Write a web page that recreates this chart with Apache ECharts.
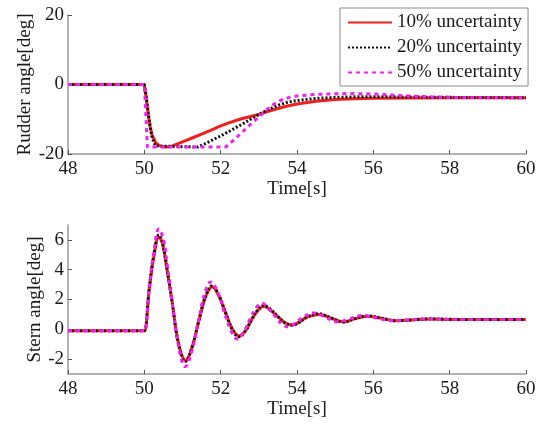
<!DOCTYPE html>
<html>
<head>
<meta charset="utf-8">
<script src="https://cdn.jsdelivr.net/npm/echarts@6/dist/echarts.min.js"></script>
<style>
  html, body { margin: 0; padding: 0; background: #fff; }
  #chart { width: 541px; height: 425px; }
</style>
</head>
<body>
<div id="chart"></div>
<script>
// ---- Rudder angle [deg] vs time [s] ----
const rudderT10 = [48, 50, 50.05, 50.1, 50.15, 50.2, 50.3, 50.4, 50.5, 50.6, 50.7, 50.8, 51.0, 51.25, 51.5, 51.75, 52.0, 52.25, 52.5, 52.75, 53.0, 53.25, 53.5, 53.75, 54.0, 54.5, 55.0, 55.5, 56.0, 57.0, 58.0, 59.0, 60.0];
const rudderV10 = [0, 0, -4, -8.5, -12, -14.5, -16.8, -17.6, -17.9, -18, -17.8, -17.4, -16.5, -15.4, -14.3, -13.1, -11.9, -10.9, -10.0, -9.3, -8.6, -7.7, -6.9, -6.2, -5.6, -4.8, -4.35, -4.1, -3.95, -3.85, -3.8, -3.8, -3.8];

const rudderT20 = [48, 50, 50.05, 50.1, 50.15, 50.2, 50.25, 50.3, 50.35, 51.4, 51.6, 51.8, 52.0, 52.2, 52.4, 52.6, 52.8, 53.0, 53.25, 53.5, 53.75, 54.0, 54.5, 55.0, 55.5, 56.0, 56.5, 57.0, 58.0, 59.0, 60.0];
const rudderV20 = [0, 0, -3.5, -8, -12, -15, -16.8, -17.7, -18, -18, -17.0, -15.9, -14.8, -13.6, -12.4, -11.2, -9.9, -8.6, -7.2, -6.0, -5.1, -4.6, -4.0, -3.7, -3.55, -3.5, -3.55, -3.6, -3.7, -3.75, -3.8];

const rudderT50 = [48, 50, 50.04, 50.08, 52.13, 52.4, 52.7, 53.0, 53.2, 53.4, 53.6, 53.8, 54.0, 54.5, 55.0, 55.5, 56.0, 56.5, 57.0, 57.5, 58.0, 59.0, 60.0];
const rudderV50 = [0, 0, -9, -18, -18, -15.4, -12.3, -9.3, -7.3, -5.6, -4.4, -3.7, -3.3, -2.85, -2.65, -2.6, -2.75, -3.05, -3.35, -3.55, -3.7, -3.8, -3.8];

// ---- Stern angle [deg] vs time [s] ----
const sternT10 = [48, 49.95, 50.0, 50.13, 50.25, 50.38, 50.47, 50.6, 50.73, 50.9, 51.08, 51.25, 51.43, 51.6, 51.78, 51.95, 52.13, 52.3, 52.48, 52.65, 52.8, 52.97, 53.13, 53.3, 53.5, 53.7, 53.87, 54.05, 54.25, 54.58, 54.9, 55.23, 55.5, 55.85, 56.2, 56.6, 57.0, 57.5, 58.0, 59.0, 60.0];
const sternV10 = [-0.1, -0.1, -0.1, 2.7, 4.9, 6.2, 5.8, 3.9, 1.8, -1.0, -2.1, -1.2, 0.6, 2.15, 2.85, 2.25, 1.1, 0.05, -0.45, -0.1, 0.6, 1.25, 1.55, 1.3, 0.85, 0.42, 0.3, 0.47, 0.8, 1.0, 0.74, 0.5, 0.7, 0.88, 0.74, 0.58, 0.63, 0.69, 0.66, 0.65, 0.65];

const sternT20 = [48, 49.95, 50.0, 50.13, 50.25, 50.38, 50.47, 50.6, 50.73, 50.9, 51.08, 51.25, 51.43, 51.6, 51.78, 51.95, 52.13, 52.3, 52.48, 52.65, 52.8, 52.97, 53.13, 53.3, 53.5, 53.7, 53.87, 54.05, 54.25, 54.58, 54.9, 55.23, 55.5, 55.85, 56.2, 56.6, 57.0, 57.5, 58.0, 59.0, 60.0];
const sternV20 = [-0.1, -0.1, -0.1, 2.8, 5.0, 6.33, 5.9, 4.0, 1.8, -1.0, -2.15, -1.2, 0.6, 2.2, 2.92, 2.3, 1.1, 0.0, -0.5, -0.1, 0.6, 1.3, 1.6, 1.35, 0.85, 0.4, 0.27, 0.45, 0.8, 1.04, 0.75, 0.49, 0.7, 0.9, 0.75, 0.57, 0.63, 0.7, 0.67, 0.65, 0.65];

const sternT50 = [48, 49.95, 50.0, 50.13, 50.25, 50.38, 50.5, 50.6, 50.72, 50.9, 51.07, 51.25, 51.42, 51.58, 51.74, 51.92, 52.1, 52.27, 52.44, 52.6, 52.77, 52.93, 53.08, 53.25, 53.45, 53.62, 53.78, 53.95, 54.15, 54.45, 54.75, 55.05, 55.35, 55.7, 56.05, 56.45, 56.9, 57.4, 58.0, 59.0, 60.0];
const sternV50 = [-0.1, -0.1, -0.1, 2.9, 5.2, 6.73, 6.0, 4.3, 1.9, -1.2, -2.5, -1.4, 0.6, 2.4, 3.18, 2.5, 1.1, -0.1, -0.65, -0.2, 0.7, 1.45, 1.75, 1.4, 0.8, 0.3, 0.16, 0.4, 0.8, 1.1, 0.8, 0.5, 0.68, 0.92, 0.78, 0.58, 0.63, 0.7, 0.67, 0.65, 0.65];

// ---- Axis ticks ----
const timeTicks = [48, 50, 52, 54, 56, 58, 60];
const rudderTicks = [-20, 0, 20];
const sternTicks = [-2, 0, 2, 4, 6];

const seriesNames = ['10% uncertainty', '20% uncertainty', '50% uncertainty'];

const FONT = 'Liberation Serif';
const TXT = '#1a1a1a';

const pairs = (ts, vs) => ts.map((t, i) => [t, vs[i]]);

const styles = [
  { color: '#f21f1f', width: 3, type: 'solid' },
  { color: '#111111', width: 3, type: [2, 2] },
  { color: '#f21ff2', width: 3, type: [4, 4] }
];

function xAxisFor(grid, gap) {
  return {
    gridIndex: grid, type: 'value',
    min: timeTicks[0], max: timeTicks[timeTicks.length - 1], interval: 2,
    name: 'Time[s]', nameLocation: 'middle', nameGap: gap,
    nameTextStyle: { fontFamily: FONT, fontSize: 19, color: TXT },
    axisLine: { show: true, onZero: false, lineStyle: { color: '#9a9a9a', width: 1.5 } },
    axisTick: { show: true, inside: true, length: 4, lineStyle: { color: '#555', width: 1 } },
    axisLabel: { fontFamily: FONT, fontSize: 19, color: TXT, margin: 6 },
    splitLine: { show: false }
  };
}

function yAxisFor(grid, name, min, max, ticks, gap) {
  return {
    gridIndex: grid, type: 'value', min: min, max: max,
    name: name, nameLocation: 'middle', nameGap: gap, nameMoveOverlap: false,
    nameTextStyle: { fontFamily: FONT, fontSize: 19, color: TXT },
    axisLine: { show: true, onZero: false, lineStyle: { color: '#9a9a9a', width: 1.5 } },
    axisTick: { show: true, inside: true, length: 4, customValues: ticks, lineStyle: { color: '#555', width: 1 } },
    axisLabel: { fontFamily: FONT, fontSize: 19, color: TXT, margin: 4, customValues: ticks },
    splitLine: { show: false }
  };
}

const rudderData = [pairs(rudderT10, rudderV10), pairs(rudderT20, rudderV20), pairs(rudderT50, rudderV50)];
const sternData = [pairs(sternT10, sternV10), pairs(sternT20, sternV20), pairs(sternT50, sternV50)];

const series = [];
rudderData.forEach((d, i) => {
  series.push({
    name: seriesNames[i], type: 'line', xAxisIndex: 0, yAxisIndex: 0,
    data: d, showSymbol: false, symbol: 'none', smooth: false,
    lineStyle: styles[i], itemStyle: { color: styles[i].color }, emphasis: { disabled: true }
  });
});
sternData.forEach((d, i) => {
  series.push({
    name: seriesNames[i], type: 'line', xAxisIndex: 1, yAxisIndex: 1,
    data: d, showSymbol: false, symbol: 'none', smooth: 0.4,
    lineStyle: styles[i], itemStyle: { color: styles[i].color }, emphasis: { disabled: true }
  });
});

const chart = echarts.init(document.getElementById('chart'), null, { renderer: 'canvas' });
chart.setOption({
  animation: false,
  backgroundColor: '#ffffff',
  grid: [
    { left: 68, top: 15, width: 458, height: 139 },
    { left: 68, top: 225, width: 458, height: 149 }
  ],
  xAxis: [xAxisFor(0, 26), xAxisFor(1, 22)],
  yAxis: [
    yAxisFor(0, 'Rudder angle[deg]', rudderTicks[0], rudderTicks[rudderTicks.length - 1], rudderTicks, 33),
    yAxisFor(1, 'Stern angle[deg]', -3, 7, sternTicks, 23)
  ],
  legend: {
    data: seriesNames,
    orient: 'vertical', left: 340, top: 8,
    padding: [5, 6, 4, 7], itemGap: 6,
    itemWidth: 44, itemHeight: 10,
    itemStyle: { opacity: 0 },
    backgroundColor: '#ffffff', borderColor: '#8a8a8a', borderWidth: 1,
    textStyle: { fontFamily: FONT, fontSize: 19, color: TXT },
    selectedMode: false
  },
  series: series
});
</script>
</body>
</html>
